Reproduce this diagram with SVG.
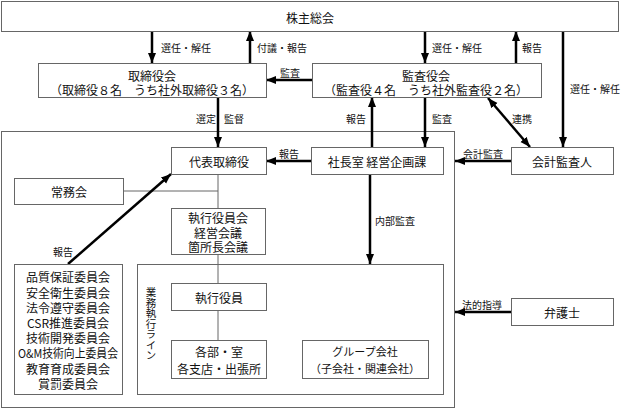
<svg xmlns="http://www.w3.org/2000/svg" width="621" height="409" viewBox="0 0 621 409">
<defs>
<marker id="ah" markerUnits="userSpaceOnUse" markerWidth="10" markerHeight="10" viewBox="0 0 10 10" refX="10" refY="5" orient="auto-start-reverse">
<path d="M0,1 L10,5 L0,9 z" fill="#000"/>
</marker>
<style>
.box{fill:#fff;stroke:#666;stroke-width:1}
.frame{fill:none;stroke:#666;stroke-width:1}
.t{font-family:"Noto Sans CJK JP","Liberation Sans",sans-serif;font-size:12px;fill:#111;text-anchor:middle;dominant-baseline:central}
.l{font-family:"Noto Sans CJK JP","Liberation Sans",sans-serif;font-size:10px;fill:#111;dominant-baseline:central}
.v{font-family:"Noto Sans CJK JP","Liberation Sans",sans-serif;font-size:10.5px;fill:#111;writing-mode:vertical-rl}
.ar{stroke:#000;stroke-width:2.5;fill:none;marker-end:url(#ah)}
.ln{stroke:#666;stroke-width:1;fill:none}
</style>
</defs>
<rect width="621" height="409" fill="#fff"/>

<g id="frame-outer"><rect class="frame" x="1.5" y="131.5" width="453" height="276"/></g>
<g id="frame-line"><rect class="frame" x="137.5" y="264.5" width="306" height="130"/>
<text class="v" x="151" y="287">業務執行ライン</text>
</g>

<g id="connectors">
<line class="ln" x1="123" y1="191" x2="218" y2="191"/>
<line class="ln" x1="218" y1="174" x2="218" y2="208"/>
<line class="ln" x1="218" y1="254" x2="218" y2="283"/>
<line class="ln" x1="218" y1="310" x2="218" y2="340"/>
<line class="ar" x1="152" y1="31" x2="152" y2="63"/>
<line class="ar" x1="250" y1="63" x2="250" y2="31"/>
<line class="ar" x1="425" y1="31" x2="425" y2="63"/>
<line class="ar" x1="516" y1="63" x2="516" y2="31"/>
<line class="ar" x1="563" y1="31" x2="563" y2="147"/>
<line class="ar" x1="312" y1="80" x2="266" y2="80"/>
<line class="ar" x1="218" y1="97" x2="218" y2="147"/>
<line class="ar" x1="372" y1="147" x2="372" y2="97"/>
<line class="ar" x1="425" y1="97" x2="425" y2="147"/>
<line class="ar" x1="488" y1="98" x2="530" y2="147" marker-start="url(#ah)"/>
<line class="ar" x1="511" y1="161" x2="455" y2="161"/>
<line class="ar" x1="311" y1="161" x2="266" y2="161"/>
<line class="ar" x1="370" y1="174" x2="370" y2="264"/>
<line class="ar" x1="68" y1="264" x2="171" y2="174"/>
<line class="ar" x1="511" y1="312" x2="455" y2="312"/>
<text class="l" x="161" y="47">選任・解任</text>
<text class="l" x="257" y="47">付議・報告</text>
<text class="l" x="432" y="47">選任・解任</text>
<text class="l" x="522" y="47">報告</text>
<text class="l" x="570" y="88">選任・解任</text>
<text class="l" x="280" y="72">監査</text>
<text class="l" x="196" y="118">選定</text>
<text class="l" x="224" y="118">監督</text>
<text class="l" x="346" y="118">報告</text>
<text class="l" x="432" y="118">監査</text>
<text class="l" x="512" y="118">連携</text>
<text class="l" x="463" y="153">会計監査</text>
<text class="l" x="279" y="153">報告</text>
<text class="l" x="375" y="220">内部監査</text>
<text class="l" x="53" y="251">報告</text>
<text class="l" x="462" y="304">法的指導</text>
</g>

<g id="n-shareholders"><rect class="box" x="1.5" y="1.5" width="617" height="30"/><text class="t" x="310" y="17">株主総会</text></g>
<g id="n-board"><rect class="box" x="38.5" y="63.5" width="228" height="34"/><text class="t" x="152" y="75">取締役会</text><text class="t" x="152" y="89">（取締役８名　うち社外取締役３名）</text></g>
<g id="n-auditboard"><rect class="box" x="312.5" y="63.5" width="229" height="34"/><text class="t" x="426" y="75">監査役会</text><text class="t" x="426" y="89">（監査役４名　うち社外監査役２名）</text></g>
<g id="n-president"><rect class="box" x="171.5" y="147.5" width="95" height="27"/><text class="t" x="219" y="161">代表取締役</text></g>
<g id="n-planning"><rect class="box" x="311.5" y="147.5" width="132" height="27"/><text class="t" x="377" y="161">社長室 経営企画課</text></g>
<g id="n-accountant"><rect class="box" x="511.5" y="147.5" width="102" height="27"/><text class="t" x="562" y="161">会計監査人</text></g>
<g id="n-jomukai"><rect class="box" x="14.5" y="178.5" width="109" height="26"/><text class="t" x="69" y="191">常務会</text></g>
<g id="n-exec-meetings"><rect class="box" x="171.5" y="208.5" width="94" height="46"/><text class="t" x="218" y="217">執行役員会</text><text class="t" x="218" y="232">経営会議</text><text class="t" x="218" y="246">箇所長会議</text></g>
<g id="n-committees"><rect class="box" x="14.5" y="264.5" width="108" height="130"/>
<text class="t" x="68" y="276">品質保証委員会</text>
<text class="t" x="68" y="292">安全衛生委員会</text>
<text class="t" x="68" y="307">法令遵守委員会</text>
<text class="t" x="68" y="322">CSR推進委員会</text>
<text class="t" x="68" y="337">技術開発委員会</text>
<text class="t" x="68" y="352" textLength="100" lengthAdjust="spacingAndGlyphs">O&amp;M技術向上委員会</text>
<text class="t" x="68" y="368">教育育成委員会</text>
<text class="t" x="68" y="383">賞罰委員会</text>
</g>
<g id="n-exec-officers"><rect class="box" x="171.5" y="283.5" width="95" height="27"/><text class="t" x="219" y="297">執行役員</text></g>
<g id="n-departments"><rect class="box" x="171.5" y="340.5" width="95" height="38"/><text class="t" x="219" y="351">各部・室</text><text class="t" x="219" y="368">各支店・出張所</text></g>
<g id="n-group"><rect class="box" x="302.5" y="340.5" width="126" height="38"/><text class="t" style="font-size:11px" x="365" y="351">グループ会社</text><text class="t" style="font-size:11px" x="365" y="368">（子会社・関連会社）</text></g>
<g id="n-lawyer"><rect class="box" x="511.5" y="298.5" width="102" height="27"/><text class="t" x="562" y="312">弁護士</text></g>
</svg>
